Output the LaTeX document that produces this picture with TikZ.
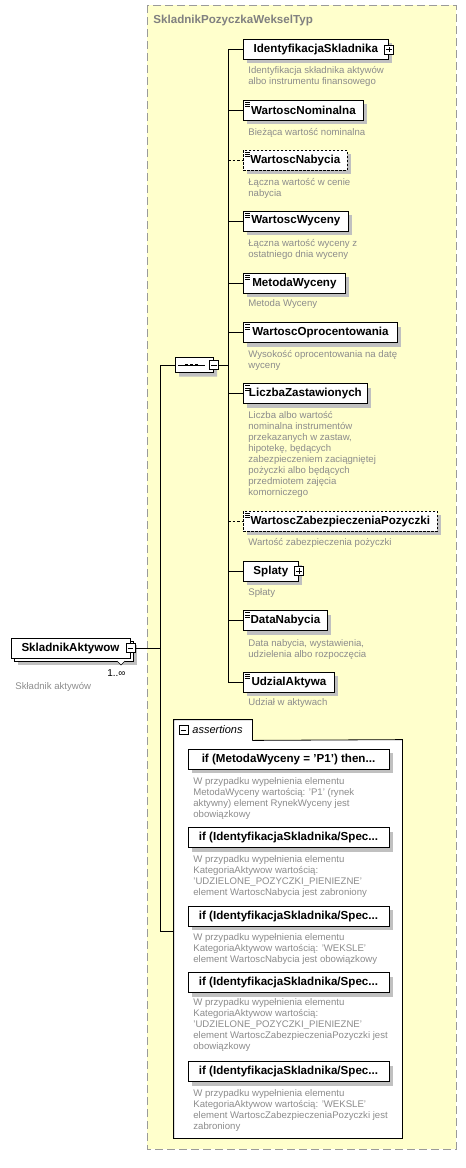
\documentclass[tikz,border=0pt]{standalone}
\usepackage{fontspec}
\setmainfont{Liberation Sans}
\usepackage{xcolor}
\usetikzlibrary{shapes.misc,shadows,calc}

\definecolor{typfill}{HTML}{FFFFCC}
\definecolor{typline}{HTML}{9A9A9A}
\definecolor{opisgray}{HTML}{8C8C8C}
\definecolor{cien}{HTML}{C0C0C0}

\tikzset{
  elem/.style={draw, fill=white, line width=0.8pt, minimum height=20pt, inner sep=0pt,
    anchor=west, font=\fontsize{11.6}{13}\selectfont\bfseries,
    general shadow={fill=cien, shadow xshift=4pt, shadow yshift=-4pt}},
  prosty/.style={path picture={
    \foreach \k in {2,4.3,6.6}
      \draw[solid, line width=0.6pt] ([shift={(2pt,-\k pt)}]path picture bounding box.north west) -- ++(5pt,0pt);}},
  opcja/.style={dash pattern=on 2.5pt off 1.5pt},
  opis/.style={anchor=north west, inner sep=0pt, align=left, text=opisgray,
    font=\fontsize{9.6}{11}\selectfont},
  pm/.style={draw, fill=white, line width=0.6pt, minimum size=9pt, inner sep=0pt},
  plus/.style={pm, path picture={
    \draw[line width=0.6pt] ([xshift=-2.8pt]path picture bounding box.center) -- ([xshift=2.8pt]path picture bounding box.center);
    \draw[line width=0.6pt] ([yshift=-2.8pt]path picture bounding box.center) -- ([yshift=2.8pt]path picture bounding box.center);}},
  minus/.style={pm, path picture={
    \draw[line width=0.6pt] ([xshift=-2.8pt]path picture bounding box.center) -- ([xshift=2.8pt]path picture bounding box.center);}},
  regula/.style={elem, anchor=center, minimum width=201pt}
}

\begin{document}
\begin{tikzpicture}[x=1pt,y=-1pt,line width=0.8pt]
    \useasboundingbox (0,0) rectangle (466,1168);
    % complex type area
    \draw[typline, fill=typfill, dash pattern=on 8pt off 4pt] (147,5) rectangle (456,1149);
    \node[anchor=west, inner sep=0pt, text=gray, font=\fontsize{11.6}{13}\selectfont\bfseries]
      (typ) at (153,20) {SkladnikPozyczkaWekselTyp};
    % root element, many occurrences
    \node[draw, fill=white, minimum width=119pt, minimum height=20pt,
      general shadow={fill=cien, shadow xshift=4pt, shadow yshift=-4pt}] (rootb) at (73.5,651) {};
    \draw[fill=white, line width=0.6pt] (117,661) -- (121,665) -- (125,661);
    \node[draw, fill=white, minimum width=119pt, minimum height=20pt, inner sep=0pt,
      font=\fontsize{11.6}{13}\selectfont\bfseries] (root) at (70.5,648) {SkladnikAktywow\hspace{6pt}};
    \node[minus] (rootm) at (root.east) {};
    \node[anchor=east, inner sep=0pt, font=\fontsize{10}{12}\selectfont] (krotnosc) at (126,673) {1..∞};
    \node[opis] (rootd) at (15,682) {Składnik aktywów};
    % sequence
    \coordinate (lg) at (160,365);
    \coordinate (ld) at (160,931);
    \node[chamfered rectangle, chamfered rectangle sep=4pt, draw, fill=white, minimum width=38pt,
      minimum height=15pt, inner sep=0pt,
      general shadow={fill=cien, shadow xshift=4pt, shadow yshift=-4pt}] (sekw) at (194,365) {};
    \draw[line width=0.7pt] ([xshift=-16pt]sekw.center) -- ([xshift=11pt]sekw.center);
    \foreach \dx in {-7.5,-2.5,2.5}
      \fill ([xshift=\dx pt]sekw.center) ++(-1.4,-1.4) rectangle ++(2.8,2.8);
    \node[minus] (sekwm) at (214,365) {};
    \coordinate (pgg) at (228,49.3);
    \coordinate (pgd) at (228,682);
    % children
    \node[elem, minimum width=145pt] (ident) at (243,49.3) {IdentyfikacjaSkladnika\hspace{6pt}};
    \node[plus] (identp) at (ident.east) {};
    \node[opis] (identd) at (248,66.5) {Identyfikacja składnika aktywów\\albo instrumentu finansowego};
    \node[elem, prosty, minimum width=120pt] (nominal) at (243,110) {WartoscNominalna};
    \node[opis] (nominald) at (248,127.7) {Bieżąca wartość nominalna};
    \node[elem, prosty, opcja, minimum width=104pt] (nabycie) at (243,160) {WartoscNabycia};
    \node[opis] (nabycied) at (248,177.7) {Łączna wartość w cenie\\nabycia};
    \node[elem, prosty, minimum width=105pt] (wycena) at (243,221) {WartoscWyceny};
    \node[opis] (wycenad) at (248,239.3) {Łączna wartość wyceny z\\ostatniego dnia wyceny};
    \node[elem, prosty, minimum width=102pt] (metoda) at (243,283) {MetodaWyceny};
    \node[opis] (metodad) at (248,299.3) {Metoda Wyceny};
    \node[elem, prosty, minimum width=154pt] (oprocent) at (243,332.5) {WartoscOprocentowania};
    \node[opis] (oprocentd) at (248,350.3) {Wysokość oprocentowania na datę\\wyceny};
    \node[elem, prosty, minimum width=124pt] (zastaw) at (243,393.5) {LiczbaZastawionych};
    \node[opis] (zastawd) at (248,410.7) {Liczba albo wartość\\nominalna instrumentów\\przekazanych w zastaw,\\hipotekę, będących\\zabezpieczeniem zaciągniętej\\pożyczki albo będących\\przedmiotem zajęcia\\komorniczego};
    \node[elem, prosty, opcja, minimum width=194pt] (zabezp) at (243,521) {WartoscZabezpieczeniaPozyczki};
    \node[opis] (zabezpd) at (248,537.7) {Wartość zabezpieczenia pożyczki};
    \node[elem, minimum width=55pt] (splaty) at (243,571) {Splaty\hspace{6pt}};
    \node[plus] (splatyp) at (splaty.east) {};
    \node[opis] (splatyd) at (248,587.7) {Spłaty};
    \node[elem, prosty, minimum width=84pt] (datanab) at (243,620.5) {DataNabycia};
    \node[opis] (datanabd) at (248,638.7) {Data nabycia, wystawienia,\\udzielenia albo rozpoczęcia};
    \node[elem, prosty, minimum width=91pt] (udzial) at (243,682) {UdzialAktywa};
    \node[opis] (udziald) at (248,698.3) {Udział w aktywach};
    % connectors
    \draw (rootm.east) -- (rootm.east -| lg);
    \draw (lg) -- (ld);
    \draw (lg) -- (sekw.west);
    \draw (sekwm.east) -- (sekwm.east -| pgg);
    \draw (pgg) -- (pgd);
    \foreach \n in {ident,nominal,wycena,metoda,oprocent,zastaw,splaty,datanab,udzial}
      \draw (\n.west -| pgg) -- (\n.west);
    \draw[dash pattern=on 2.5pt off 2pt] (nabycie.west -| pgg) -- (nabycie.west);
    \draw[dash pattern=on 2.5pt off 2pt] (zabezp.west -| pgg) -- (zabezp.west);
    % assertions
    \node[fill=white, minimum width=228pt, minimum height=398pt, inner sep=0pt] (asrt) at (288,939) {};
    \node[fill=white, minimum width=78pt, minimum height=20pt, inner sep=0pt] (tab) at (213,730) {};
    \draw (tab.south east) -- (asrt.north east) -- (asrt.south east) -- (asrt.south west)
      -- (tab.north west) -- (tab.north east) -- (tab.south east);
    \node[minus] (tabm) at (183.5,730) {};
    \node[anchor=west, inner sep=0pt, font=\fontsize{11}{13}\selectfont\itshape] (tabt) at (192,730) {assertions};
    \draw (ld) -- (ld -| asrt.west);
    \node[regula] (a1) at (288.5,759) {if (MetodaWyceny = 'P1') then...};
    \node[opis] (a1d) at (193,777.5) {W przypadku wypełnienia elementu\\MetodaWyceny wartością: 'P1' (rynek\\aktywny) element RynekWyceny jest\\obowiązkowy};
    \node[regula] (a2) at (288.5,837.5) {if (IdentyfikacjaSkladnika/Spec...};
    \node[opis] (a2d) at (193,855) {W przypadku wypełnienia elementu\\KategoriaAktywow wartością:\\'UDZIELONE\_POZYCZKI\_PIENIEZNE'\\element WartoscNabycia jest zabroniony};
    \node[regula] (a3) at (288.5,916) {if (IdentyfikacjaSkladnika/Spec...};
    \node[opis] (a3d) at (193,932.7) {W przypadku wypełnienia elementu\\KategoriaAktywow wartością: 'WEKSLE'\\element WartoscNabycia jest obowiązkowy};
    \node[regula] (a4) at (288.5,982.5) {if (IdentyfikacjaSkladnika/Spec...};
    \node[opis] (a4d) at (193,998.5) {W przypadku wypełnienia elementu\\KategoriaAktywow wartością:\\'UDZIELONE\_POZYCZKI\_PIENIEZNE'\\element WartoscZabezpieczeniaPozyczki jest\\obowiązkowy};
    \node[regula] (a5) at (288.5,1071.7) {if (IdentyfikacjaSkladnika/Spec...};
    \node[opis] (a5d) at (193,1089) {W przypadku wypełnienia elementu\\KategoriaAktywow wartością: 'WEKSLE'\\element WartoscZabezpieczeniaPozyczki jest\\zabroniony};
\end{tikzpicture}
\end{document}
